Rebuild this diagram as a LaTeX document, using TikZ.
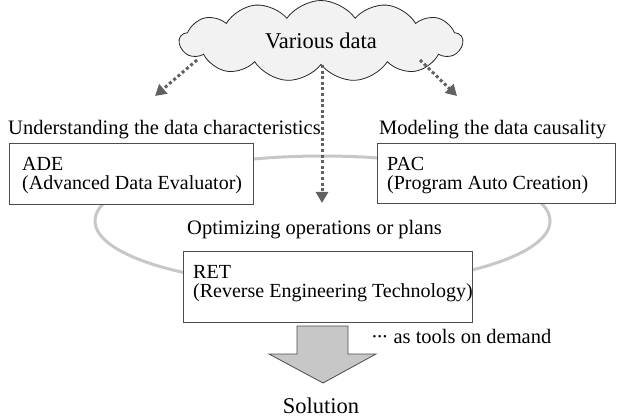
\documentclass[tikz,border=0pt]{standalone}
\usepackage{fontspec}
\setmainfont{Liberation Serif}
\usetikzlibrary{shapes.symbols,arrows.meta}

\tikzset{tool/.style = {draw=black!70, line width=1pt, fill=white, anchor=north west},
         tooltext/.style = {anchor=north west, inner sep=0pt, align=left,
                            font=\fontsize{20}{19}\selectfont},
         caption/.style = {anchor=base west, inner sep=0pt, font=\fontsize{20.5}{24}\selectfont},
         feed/.style = {draw=black!62, line width=3pt, dash pattern=on 3pt off 2.6pt,
                        -{Triangle[length=11pt,width=12pt]}},
         cycle line/.style = {draw=black!22, line width=3pt}
        }
\newcommand{\tightdots}{\textperiodcentered\kern-1.6pt\textperiodcentered\kern-1.6pt\textperiodcentered}

\begin{document}
\begin{tikzpicture}[x=1pt, y=-1pt]
  \useasboundingbox (0,0) rectangle (617,419);

  \draw[cycle line] (322.5,221) ellipse [x radius=227.5pt, y radius=65pt];

  \node[cloud, cloud puffs=13, cloud puff arc=110, aspect=4.2, draw=black!85, line width=0.8pt,
        fill=black!5, minimum width=283pt, minimum height=81pt,
        font=\fontsize{22.5}{26}\selectfont] (data) at (321,41) {Various data};

  \node[tool, minimum width=244pt, minimum height=61pt] (ade) at (9,143) {};
  \node[tool, minimum width=238pt, minimum height=60pt] (pac) at (377,143) {};
  \node[tool, minimum width=289pt, minimum height=71pt] (ret) at (183,251) {};

  \node[tooltext] at (22,157) {ADE\\(Advanced Data Evaluator)};
  \node[tooltext] at (387,157) {PAC\\(Program Auto Creation)};
  \node[tooltext] at (193,265) {RET\\(Reverse Engineering Technology)};

  \node[caption] (lade) at (8,135) {Understanding the data characteristics};
  \node[caption] (lpac) at (379,135) {Modeling the data causality};
  \node[caption] (lret) at (187,235) {Optimizing operations or plans};

  \coordinate (l0) at (197,60);
  \coordinate (l1) at (155,96);
  \coordinate (r0) at (420,60);
  \coordinate (r1) at (457,96);
  \coordinate (m1) at (322,203);
  \draw[feed] (l0) -- (l1);
  \draw[feed] (r0) -- (r1);
  \draw[feed] (data.south -| m1) -- (m1);

  % arrow down to the solution
  \draw[draw=black!70, fill=black!22, line width=0.8pt]
    (297,326) -- (348,326) -- (348,354) -- (376,354) -- (323,383)
    -- (269,354) -- (297,354) -- cycle;

  \node[caption] (ondemand) at (371,343) {\tightdots{} as tools on demand};
  \node[anchor=base, inner sep=0pt, font=\fontsize{22.5}{26}\selectfont] (sol) at (321,413) {Solution};
\end{tikzpicture}
\end{document}
